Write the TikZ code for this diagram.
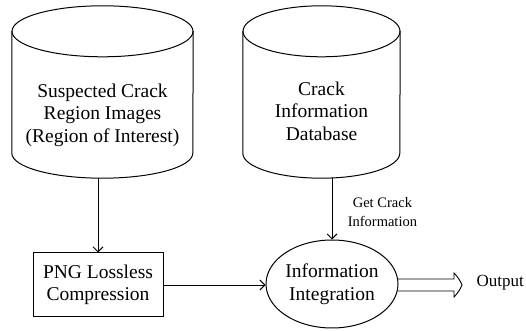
\documentclass[tikz,border=0pt]{standalone}
\usepackage{fontspec}
\setmainfont{Liberation Serif}
\usetikzlibrary{arrows.meta,positioning,shapes.geometric,calc}

\begin{document}
\begin{tikzpicture}[
  x=1pt, y=1pt,
  every node/.style={align=center, font=\fontsize{19.5}{22.5}\selectfont},
  db/.style={rectangle, inner sep=0pt, minimum width=181pt, minimum height=172pt},
  box/.style={draw, rectangle, minimum width=130pt, minimum height=64pt, line width=1pt},
  arr/.style={-{Straight Barb[length=5pt, width=10pt]}, line width=0.9pt},
]
  \useasboundingbox (0,0) rectangle (526,331);

  % Databases
  \node[db] (roi) at (102.5,239) {};
  \node[db, minimum width=157pt] (cdb) at (321.5,239) {};
  \foreach \n/\rx in {roi/90.5, cdb/78.5}{
    \draw[line width=1pt] ($(\n.north west)+(0,-25)$) -- ($(\n.south west)+(0,25)$)
      arc[start angle=180, end angle=360, x radius=\rx, y radius=25] -- ($(\n.north east)+(0,-25)$);
    \draw[line width=1pt] ($(\n.north)+(0,-25.5)$) ellipse[x radius=\rx, y radius=25.5];
  }
  \node (roitext) at (102.5,216) {Suspected Crack\\Region Images\\(Region of Interest)};
  \node (cdbtext) at (321.5,220) {Crack\\Information\\Database};

  % Processing
  \node[box] (png) at (98,46) {PNG Lossless\\Compression};
  \node[draw, ellipse, minimum width=132pt, minimum height=88pt, inner sep=0pt, line width=1pt] (integ) at (332,47) {Information\\Integration};

  % Output
  \node[anchor=west, font=\fontsize{17}{20}\selectfont] (out) at (473,48) {Output};
  \coordinate (tip) at ($(out.west)+(-11,-2)$);

  % Edges
  \draw[arr] (roi.south -| png.north) -- (png.north);
  \draw[arr] (cdb.south -| integ.north) -- node[pos=0.55, right=12pt, font=\fontsize{14.5}{19}\selectfont]{Get Crack\\Information} (integ.north);
  \draw[arr] (png.east) -- (png.east -| integ.west);
  \draw[line width=0.9pt] ($(integ.east |- tip)+(-1,6)$) -- ($(tip)+(-8,6)$) -- ($(tip)+(-8,12)$)
    to[bend left=10] (tip) to[bend left=10] ($(tip)+(-8,-12)$) -- ($(tip)+(-8,-6)$) -- ($(integ.east |- tip)+(-1,-6)$);
\end{tikzpicture}
\end{document}
